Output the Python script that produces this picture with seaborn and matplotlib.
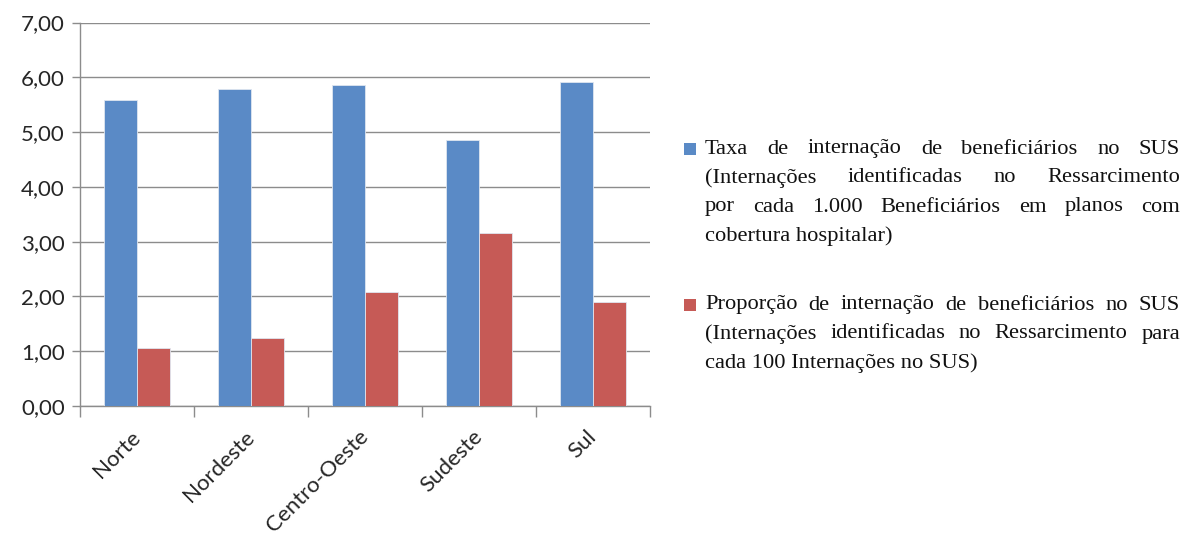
import matplotlib
matplotlib.use("Agg")
import matplotlib.pyplot as plt
from matplotlib.patches import Rectangle
from matplotlib.ticker import FixedLocator, FuncFormatter
import pandas as pd
import seaborn as sns

# Regional hospitalisation indicators
regions = ["Norte", "Nordeste", "Centro-Oeste", "Sudeste", "Sul"]
taxa = [5.59, 5.78, 5.86, 4.86, 5.91]
proporcao = [1.05, 1.25, 2.08, 3.15, 1.89]

series_names = [
    "Taxa de internação de beneficiários no SUS (Internações identificadas no "
    "Ressarcimento por cada 1.000 Beneficiários em planos com cobertura hospitalar)",
    "Proporção de internação de beneficiários no SUS (Internações identificadas no "
    "Ressarcimento para cada 100 Internações no SUS)",
]
# Legend text broken into lines; all but the last line of each entry are justified
legend_lines = [
    ["Taxa de internação de beneficiários no SUS",
     "(Internações identificadas no Ressarcimento",
     "por cada 1.000 Beneficiários em planos com",
     "cobertura hospitalar)"],
    ["Proporção de internação de beneficiários no SUS",
     "(Internações identificadas no Ressarcimento para",
     "cada 100 Internações no SUS)"],
]
colors = ["#5A8AC6", "#C65A56"]
yticks = [0, 1, 2, 3, 4, 5, 6, 7]

df = pd.DataFrame({
    "Região": regions * 2,
    "Valor": taxa + proporcao,
    "Série": [series_names[0]] * len(regions) + [series_names[1]] * len(regions),
})

sns.set_theme(style="white")
plt.rcParams["font.family"] = ["Lato", "DejaVu Sans"]

W, H = 1182, 537
fig = plt.figure(figsize=(W / 100, H / 100), dpi=100)
ax = fig.add_axes([80 / W, 1 - 406 / H, 570 / W, 383.5 / H])

sns.barplot(data=df, x="Região", y="Valor", hue="Série", order=regions,
            hue_order=series_names, palette=colors, width=0.58, saturation=1,
            edgecolor="#dfe6f0", linewidth=0.6, ax=ax, legend=False, zorder=3)

grid_color = "#8c8c8c"
ax.set_ylim(0, 7)
ax.set_xlim(-0.5, len(regions) - 0.5)
ax.yaxis.set_major_locator(FixedLocator(yticks))
ax.yaxis.set_major_formatter(FuncFormatter(lambda v, p: f"{v:.2f}".replace(".", ",")))
ax.grid(axis="y", color=grid_color, linewidth=1.0, zorder=0)
ax.set_axisbelow(True)
for side in ["top", "right"]:
    ax.spines[side].set_visible(False)
for side in ["left", "bottom"]:
    ax.spines[side].set_color(grid_color)
    ax.spines[side].set_linewidth(1.0)

ax.tick_params(axis="y", which="major", left=True, length=6, width=1.0,
               color=grid_color, labelsize=16, labelcolor="#262626", pad=5)
ax.set_xticks(range(len(regions)))
ax.set_xticklabels(regions, rotation=45, ha="right", va="center",
                   rotation_mode="anchor", fontsize=16, color="#262626")
ax.tick_params(axis="x", which="major", length=0, pad=20)
ax.set_xticks([i - 0.5 for i in range(len(regions) + 1)], minor=True)
ax.tick_params(axis="x", which="minor", bottom=True, length=8, width=1.0,
               color=grid_color)
ax.set_xlabel("")
ax.set_ylabel("")

# Legend with justified serif text
fig.canvas.draw()
renderer = fig.canvas.get_renderer()
text_left, text_right = 705, 1180
font = dict(family="Liberation Serif", size=16.2, color="#111111")
line_step = 29
block_tops = [149, 305]


def text_width(s):
    t = fig.text(0, 0, s, **font)
    w = t.get_window_extent(renderer).width
    t.remove()
    return w


for block, top, col in zip(legend_lines, block_tops, colors):
    fig.patches.append(Rectangle((684 / W, 1 - (top + 6) / H), 12 / W, 12 / H,
                                 transform=fig.transFigure, facecolor=col,
                                 edgecolor="none"))
    for i, line in enumerate(block):
        y = 1 - (top + i * line_step) / H
        words = line.split(" ")
        if i == len(block) - 1 or len(words) == 1:
            fig.text(text_left / W, y, line, va="center", ha="left", **font)
            continue
        widths = [text_width(w) for w in words]
        gap = (text_right - text_left - sum(widths)) / (len(words) - 1)
        x = text_left
        for w, ww in zip(words, widths):
            fig.text(x / W, y, w, va="center", ha="left", **font)
            x += ww + gap

fig.savefig("out.png", dpi=100, facecolor="white")
